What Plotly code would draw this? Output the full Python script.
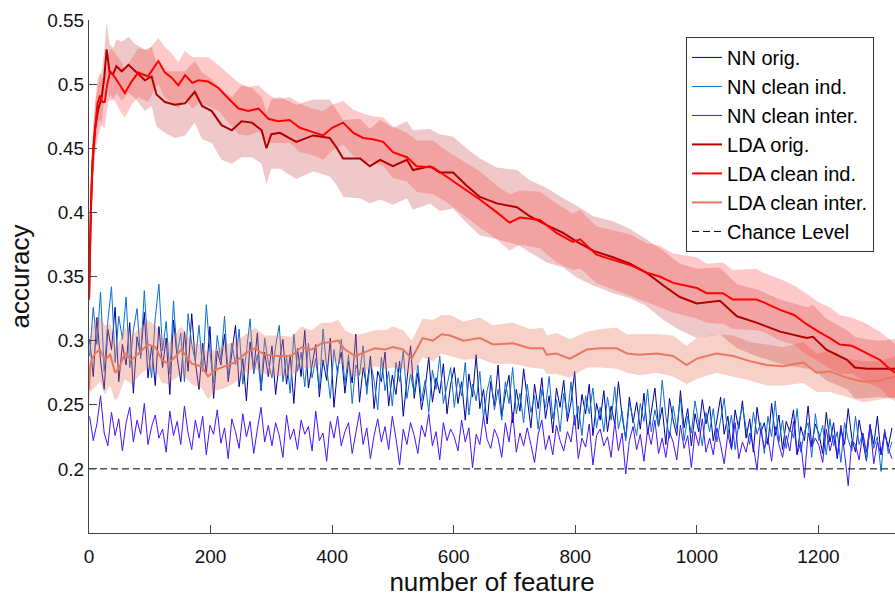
import plotly.graph_objects as go

# ---------------- data ----------------
NN_STEP = 6
nn_x = list(range(1, 1326, NN_STEP))  # feature counts sampled for NN curves

nn_orig = [
    0.301, 0.272, 0.318, 0.284, 0.262, 0.309, 0.293, 0.326, 0.268, 0.297,
    0.281, 0.314, 0.259, 0.303, 0.288, 0.322, 0.271, 0.296, 0.265, 0.311,
    0.279, 0.302, 0.258, 0.316, 0.287, 0.268, 0.307, 0.276, 0.321, 0.283,
    0.262, 0.298, 0.274, 0.311, 0.255, 0.292, 0.281, 0.305, 0.268, 0.289,
    0.312, 0.264, 0.286, 0.253, 0.299, 0.277, 0.306, 0.261, 0.291, 0.272,
    0.296, 0.258, 0.283, 0.301, 0.266, 0.289, 0.251, 0.294, 0.272, 0.308,
    0.263, 0.281, 0.297, 0.256, 0.285, 0.269, 0.302, 0.248, 0.278, 0.291,
    0.259, 0.284, 0.267, 0.305, 0.252, 0.279, 0.264, 0.288, 0.247, 0.276,
    0.268, 0.291, 0.249, 0.273, 0.258, 0.284, 0.241, 0.269, 0.296, 0.255,
    0.275, 0.246, 0.263, 0.287, 0.252, 0.271, 0.259, 0.282, 0.243, 0.266,
    0.279, 0.251, 0.268, 0.238, 0.274, 0.256, 0.289, 0.247, 0.262, 0.235,
    0.268, 0.249, 0.281, 0.241, 0.259, 0.273, 0.236, 0.262, 0.245, 0.278,
    0.254, 0.232, 0.266, 0.247, 0.271, 0.239, 0.257, 0.228, 0.263, 0.248,
    0.269, 0.237, 0.252, 0.276, 0.231, 0.258, 0.243, 0.266, 0.226, 0.251,
    0.238, 0.261, 0.229, 0.249, 0.235, 0.268, 0.241, 0.224, 0.256, 0.236,
    0.252, 0.231, 0.259, 0.227, 0.244, 0.263, 0.233, 0.248, 0.219, 0.255,
    0.238, 0.226, 0.261, 0.232, 0.247, 0.218, 0.243, 0.229, 0.254, 0.235,
    0.249, 0.222, 0.238, 0.256, 0.227, 0.241, 0.216, 0.246, 0.231, 0.253,
    0.224, 0.239, 0.213, 0.248, 0.228, 0.236, 0.219, 0.251, 0.226, 0.242,
    0.215, 0.237, 0.229, 0.246, 0.211, 0.233, 0.222, 0.249, 0.218, 0.235,
    0.227, 0.212, 0.244, 0.221, 0.236, 0.208, 0.231, 0.219, 0.247, 0.224,
    0.213, 0.238, 0.222, 0.206, 0.234, 0.219, 0.241, 0.211, 0.228, 0.217, 0.232,
]

nn_clean_ind = [
    0.288, 0.326, 0.297, 0.338, 0.276, 0.315, 0.342, 0.283, 0.319, 0.301,
    0.334, 0.279, 0.308, 0.325, 0.286, 0.339, 0.294, 0.271, 0.318, 0.344,
    0.292, 0.315, 0.274, 0.331, 0.289, 0.306, 0.268, 0.321, 0.297, 0.284,
    0.312, 0.276, 0.328, 0.291, 0.267, 0.304, 0.285, 0.319, 0.272, 0.298,
    0.281, 0.309, 0.266, 0.294, 0.317, 0.274, 0.289, 0.262, 0.302, 0.283,
    0.271, 0.296, 0.312, 0.268, 0.287, 0.259, 0.305, 0.276, 0.291, 0.264,
    0.298, 0.271, 0.286, 0.262, 0.309, 0.279, 0.255, 0.293, 0.274, 0.301,
    0.266, 0.289, 0.251, 0.281, 0.273, 0.296, 0.258, 0.284, 0.269, 0.246,
    0.287, 0.261, 0.276, 0.249, 0.283, 0.268, 0.292, 0.255, 0.274, 0.259,
    0.281, 0.253, 0.269, 0.244, 0.277, 0.262, 0.288, 0.251, 0.266, 0.279,
    0.248, 0.271, 0.257, 0.283, 0.242, 0.266, 0.253, 0.276, 0.239, 0.261,
    0.273, 0.246, 0.262, 0.238, 0.268, 0.251, 0.279, 0.243, 0.259, 0.236,
    0.266, 0.244, 0.257, 0.231, 0.262, 0.248, 0.272, 0.239, 0.254, 0.229,
    0.259, 0.241, 0.268, 0.234, 0.249, 0.226, 0.257, 0.243, 0.263, 0.232,
    0.248, 0.229, 0.256, 0.238, 0.264, 0.231, 0.245, 0.222, 0.252, 0.239,
    0.226, 0.251, 0.237, 0.262, 0.229, 0.246, 0.233, 0.269, 0.241, 0.224,
    0.249, 0.231, 0.256, 0.222, 0.241, 0.228, 0.253, 0.236, 0.218, 0.244,
    0.229, 0.247, 0.221, 0.238, 0.255, 0.226, 0.242, 0.215, 0.236, 0.249,
    0.232, 0.219, 0.244, 0.227, 0.236, 0.212, 0.241, 0.225, 0.253, 0.221,
    0.238, 0.216, 0.232, 0.224, 0.247, 0.213, 0.229, 0.236, 0.209, 0.243,
    0.222, 0.234, 0.211, 0.239, 0.218, 0.229, 0.205, 0.236, 0.223, 0.214,
    0.241, 0.219, 0.228, 0.207, 0.233, 0.216, 0.225, 0.198, 0.231, 0.212, 0.221,
]

nn_clean_inter = [
    0.241, 0.222, 0.235, 0.257, 0.228, 0.218, 0.244, 0.226, 0.239, 0.214,
    0.236, 0.248, 0.221, 0.238, 0.227, 0.251, 0.219, 0.233, 0.242, 0.224,
    0.231, 0.213, 0.245, 0.226, 0.237, 0.219, 0.249, 0.228, 0.215, 0.238,
    0.224, 0.241, 0.211, 0.234, 0.227, 0.246, 0.220, 0.232, 0.208, 0.239,
    0.229, 0.216, 0.243, 0.225, 0.237, 0.212, 0.231, 0.248, 0.221, 0.234,
    0.218, 0.236, 0.226, 0.209, 0.242, 0.223, 0.231, 0.215, 0.238, 0.227,
    0.233, 0.214, 0.245, 0.222, 0.228, 0.206, 0.237, 0.224, 0.241, 0.218,
    0.229, 0.236, 0.212, 0.227, 0.244, 0.219, 0.232, 0.208, 0.226, 0.239,
    0.221, 0.233, 0.215, 0.241, 0.224, 0.203, 0.231, 0.219, 0.236, 0.226,
    0.212, 0.234, 0.225, 0.243, 0.218, 0.229, 0.207, 0.236, 0.222, 0.231,
    0.225, 0.214, 0.238, 0.221, 0.232, 0.201, 0.227, 0.219, 0.241, 0.223,
    0.216, 0.231, 0.224, 0.209, 0.236, 0.221, 0.244, 0.213, 0.228, 0.218,
    0.232, 0.219, 0.205, 0.227, 0.238, 0.215, 0.226, 0.211, 0.234, 0.222,
    0.214, 0.229, 0.221, 0.242, 0.208, 0.224, 0.217, 0.235, 0.203, 0.226,
    0.231, 0.218, 0.225, 0.209, 0.237, 0.214, 0.228, 0.196, 0.222, 0.233,
    0.215, 0.227, 0.206, 0.231, 0.219, 0.238, 0.212, 0.224, 0.209, 0.229,
    0.221, 0.207, 0.234, 0.216, 0.226, 0.201, 0.229, 0.218, 0.239, 0.213,
    0.224, 0.211, 0.232, 0.219, 0.204, 0.227, 0.215, 0.236, 0.208, 0.221,
    0.213, 0.228, 0.218, 0.199, 0.231, 0.216, 0.224, 0.206, 0.233, 0.219,
    0.209, 0.226, 0.214, 0.237, 0.211, 0.221, 0.193, 0.228, 0.217, 0.224,
    0.218, 0.205, 0.231, 0.214, 0.226, 0.209, 0.234, 0.212, 0.187, 0.222,
    0.219, 0.207, 0.228, 0.213, 0.235, 0.204, 0.221, 0.211, 0.229, 0.216, 0.208,
]

lda_orig_x = [
    0, 3, 6, 10, 15, 21, 25, 29, 34, 40,
    45, 54, 65, 76, 92, 103, 111, 125, 141, 158,
    174, 186, 202, 218, 235, 251, 268, 284, 292, 300,
    314, 341, 369, 396, 408, 418, 446, 462, 479, 500,
    523, 533, 561, 577, 599, 621, 643, 671, 704, 725,
    753, 780, 803, 830, 862, 890, 917, 945, 972, 1000,
    1038, 1066, 1098, 1137, 1181, 1191, 1213, 1247, 1260, 1280,
    1300, 1326,
]
lda_orig_y = [
    0.332, 0.400, 0.440, 0.465, 0.480, 0.490, 0.505, 0.527, 0.509, 0.508,
    0.514, 0.510, 0.515, 0.510, 0.503, 0.506, 0.492, 0.486, 0.484, 0.485,
    0.494, 0.483, 0.479, 0.468, 0.464, 0.471, 0.470, 0.464, 0.450, 0.461,
    0.462, 0.455, 0.460, 0.458, 0.450, 0.442, 0.442, 0.436, 0.441, 0.436,
    0.441, 0.433, 0.436, 0.431, 0.431, 0.421, 0.412, 0.407, 0.404, 0.397,
    0.390, 0.384, 0.377, 0.370, 0.365, 0.360, 0.353, 0.343, 0.334, 0.329,
    0.331, 0.319, 0.314, 0.307, 0.302, 0.303, 0.293, 0.285, 0.279, 0.278,
    0.278, 0.278,
]
lda_orig_sd = [
    0.010, 0.015, 0.018, 0.020, 0.020, 0.021, 0.020, 0.021, 0.022, 0.020,
    0.021, 0.023, 0.022, 0.021, 0.024, 0.023, 0.025, 0.024, 0.026, 0.025,
    0.024, 0.026, 0.025, 0.027, 0.026, 0.028, 0.027, 0.026, 0.028, 0.027,
    0.028, 0.029, 0.028, 0.030, 0.029, 0.030, 0.031, 0.029, 0.031, 0.030,
    0.030, 0.031, 0.029, 0.030, 0.028, 0.029, 0.030, 0.028, 0.029, 0.028,
    0.029, 0.027, 0.028, 0.027, 0.028, 0.027, 0.026, 0.027, 0.026, 0.027,
    0.026, 0.025, 0.026, 0.025, 0.024, 0.025, 0.024, 0.023, 0.024, 0.023,
    0.022, 0.023,
]

lda_ind_x = [
    0, 2, 4, 7, 10, 14, 18, 22, 26, 30,
    35, 43, 54, 59, 70, 81, 97, 105, 114, 125,
    136, 147, 158, 170, 180, 196, 213, 229, 246, 262,
    279, 295, 311, 330, 347, 366, 385, 400, 418, 435,
    451, 467, 484, 500, 523, 539, 566, 588, 616, 643,
    671, 692, 709, 742, 769, 796, 808, 835, 862, 890,
    917, 939, 961, 1000, 1016, 1043, 1059, 1098, 1109, 1137,
    1160, 1180, 1200, 1219, 1235, 1255, 1280, 1301, 1317, 1326,
]
lda_ind_y = [
    0.332, 0.380, 0.420, 0.450, 0.468, 0.485, 0.491, 0.486, 0.486, 0.500,
    0.510, 0.505, 0.497, 0.493, 0.502, 0.509, 0.506, 0.512, 0.518, 0.509,
    0.505, 0.499, 0.507, 0.501, 0.503, 0.502, 0.497, 0.489, 0.481, 0.479,
    0.481, 0.473, 0.471, 0.472, 0.466, 0.463, 0.460, 0.466, 0.470, 0.462,
    0.458, 0.457, 0.455, 0.447, 0.443, 0.436, 0.435, 0.428, 0.419, 0.410,
    0.400, 0.392, 0.396, 0.394, 0.384, 0.377, 0.379, 0.367, 0.363, 0.359,
    0.353, 0.350, 0.345, 0.341, 0.337, 0.337, 0.332, 0.332, 0.330, 0.324,
    0.320, 0.313, 0.307, 0.302, 0.297, 0.296, 0.290, 0.285, 0.278, 0.275,
]
lda_ind_sd = [
    0.012, 0.016, 0.018, 0.019, 0.018, 0.019, 0.018, 0.019, 0.020, 0.019,
    0.018, 0.019, 0.020, 0.019, 0.018, 0.019, 0.020, 0.019, 0.018, 0.020,
    0.019, 0.018, 0.019, 0.020, 0.018, 0.019, 0.018, 0.019, 0.020, 0.019,
    0.018, 0.019, 0.017, 0.018, 0.019, 0.018, 0.019, 0.018, 0.017, 0.018,
    0.019, 0.018, 0.019, 0.020, 0.019, 0.020, 0.021, 0.020, 0.021, 0.022,
    0.021, 0.022, 0.021, 0.022, 0.023, 0.022, 0.023, 0.022, 0.023, 0.024,
    0.023, 0.024, 0.023, 0.024, 0.023, 0.024, 0.023, 0.024, 0.023, 0.024,
    0.023, 0.024, 0.023, 0.024, 0.023, 0.022, 0.023, 0.022, 0.023, 0.022,
]

lda_inter_x = [
    0, 2, 4, 10, 18, 26, 35, 43, 49, 59,
    70, 87, 97, 109, 120, 130, 141, 152, 169, 185,
    196, 207, 224, 240, 257, 273, 289, 311, 333, 350,
    366, 383, 399, 410, 421, 438, 454, 470, 487, 500,
    517, 531, 549, 566, 580, 594, 616, 643, 665, 698,
    725, 747, 753, 769, 791, 819, 841, 868, 885, 906,
    934, 961, 983, 1000, 1032, 1060, 1087, 1115, 1142, 1175,
    1197, 1219, 1247, 1274, 1301, 1326,
]
lda_inter_y = [
    0.262, 0.280, 0.285, 0.290, 0.293, 0.285, 0.289, 0.275, 0.278, 0.290,
    0.285, 0.293, 0.297, 0.295, 0.285, 0.282, 0.287, 0.293, 0.282, 0.280,
    0.272, 0.277, 0.280, 0.283, 0.290, 0.294, 0.289, 0.288, 0.288, 0.295,
    0.293, 0.298, 0.299, 0.300, 0.293, 0.288, 0.291, 0.294, 0.293, 0.295,
    0.293, 0.286, 0.302, 0.300, 0.305, 0.304, 0.300, 0.302, 0.297, 0.298,
    0.294, 0.294, 0.289, 0.290, 0.286, 0.293, 0.294, 0.294, 0.290, 0.289,
    0.290, 0.288, 0.281, 0.286, 0.290, 0.288, 0.284, 0.281, 0.280, 0.283,
    0.275, 0.276, 0.271, 0.268, 0.269, 0.272,
]
lda_inter_sd = [
    0.010, 0.020, 0.024, 0.026, 0.025, 0.027, 0.024, 0.022, 0.021, 0.020,
    0.019, 0.018, 0.019, 0.017, 0.018, 0.016, 0.017, 0.018, 0.016, 0.017,
    0.018, 0.016, 0.017, 0.016, 0.015, 0.016, 0.015, 0.016, 0.015, 0.016,
    0.015, 0.016, 0.015, 0.016, 0.015, 0.016, 0.015, 0.014, 0.015, 0.016,
    0.015, 0.014, 0.015, 0.016, 0.015, 0.016, 0.015, 0.016, 0.015, 0.016,
    0.015, 0.016, 0.015, 0.016, 0.015, 0.014, 0.015, 0.016, 0.015, 0.016,
    0.015, 0.016, 0.015, 0.016, 0.015, 0.016, 0.015, 0.016, 0.015, 0.016,
    0.015, 0.016, 0.015, 0.016, 0.015, 0.016,
]

chance_level = 0.2
n_features_max = 1326

x_ticks = [0, 200, 400, 600, 800, 1000, 1200]
x_tick_labels = ["0", "200", "400", "600", "800", "1000", "1200"]
y_ticks = [0.2, 0.25, 0.3, 0.35, 0.4, 0.45, 0.5, 0.55]
y_tick_labels = ["0.2", "0.25", "0.3", "0.35", "0.4", "0.45", "0.5", "0.55"]

assert len(nn_orig) == len(nn_x) == len(nn_clean_ind) == len(nn_clean_inter)
assert len(lda_orig_x) == len(lda_orig_y) == len(lda_orig_sd)
assert len(lda_ind_x) == len(lda_ind_y) == len(lda_ind_sd)
assert len(lda_inter_x) == len(lda_inter_y) == len(lda_inter_sd)

FONT = "Arial, Liberation Sans, sans-serif"

fig = go.Figure()

# NN curves (thin)
for name, ys, col in [
    ("NN orig.", nn_orig, "#00009C"),
    ("NN clean ind.", nn_clean_ind, "#0a6fd0"),
    ("NN clean inter.", nn_clean_inter, "#4412ff"),
]:
    fig.add_trace(go.Scatter(x=nn_x, y=ys, mode="lines", name=name,
                             line=dict(color=col, width=1)))


def band(xs, ys, sd, fillcol):
    up = [y + s for y, s in zip(ys, sd)]
    lo = [y - s for y, s in zip(ys, sd)]
    return go.Scatter(x=xs + xs[::-1], y=up + lo[::-1], fill="toself",
                      fillcolor=fillcol, line=dict(width=0), mode="lines",
                      hoverinfo="skip", showlegend=False)


fig.add_trace(band(lda_inter_x, lda_inter_y, lda_inter_sd, "rgba(232,120,94,0.35)"))
fig.add_trace(band(lda_orig_x, lda_orig_y, lda_orig_sd, "rgba(190,40,40,0.25)"))
fig.add_trace(band(lda_ind_x, lda_ind_y, lda_ind_sd, "rgba(255,60,60,0.28)"))

for name, xs, ys, col in [
    ("LDA orig.", lda_orig_x, lda_orig_y, "#B00000"),
    ("LDA clean ind.", lda_ind_x, lda_ind_y, "#FF0000"),
    ("LDA clean inter.", lda_inter_x, lda_inter_y, "#E8785E"),
]:
    fig.add_trace(go.Scatter(x=xs, y=ys, mode="lines", name=name,
                             line=dict(color=col, width=2)))

fig.add_trace(go.Scatter(x=[0, n_features_max], y=[chance_level, chance_level],
                         mode="lines", name="Chance Level",
                         line=dict(color="black", width=1, dash="7px,4px")))

# put legend order as in the reference (bands hidden)
fig.update_layout(
    width=895, height=597,
    margin=dict(l=89, r=0, t=20, b=64),
    paper_bgcolor="white", plot_bgcolor="white",
    font=dict(family=FONT, size=19, color="#111"),
    showlegend=True,
    legend=dict(x=0.7407, y=0.967, xanchor="left", yanchor="top",
                bgcolor="white", bordercolor="#333", borderwidth=1,
                font=dict(family=FONT, size=20, color="black"),
                traceorder="normal"),
    xaxis=dict(range=[0, n_features_max], tickvals=x_ticks, ticktext=x_tick_labels,
               showline=True, linecolor="#444", linewidth=1, ticks="inside",
               ticklen=8, tickcolor="#444", showgrid=False, zeroline=False,
               tickfont=dict(size=19), ticklabelstandoff=6,
               title=dict(text="number of feature", font=dict(size=26), standoff=10)),
    yaxis=dict(range=[0.15, 0.55], tickvals=y_ticks, ticktext=y_tick_labels,
               showline=True, linecolor="#444", linewidth=1, ticks="inside",
               ticklen=8, tickcolor="#444", showgrid=False, zeroline=False,
               tickfont=dict(size=19),
               title=dict(text="accuracy", font=dict(size=26), standoff=10)),
)

fig.write_html("out.html")
